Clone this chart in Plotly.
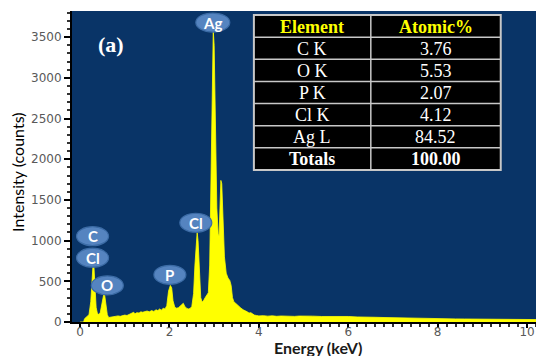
import plotly.graph_objects as go

# ---------------- data ----------------
energy_kev = [0.00, 0.08, 0.10, 0.15, 0.20, 0.24, 0.27, 0.29, 0.31, 0.33, 0.36, 0.39, 0.42, 0.45,
              0.49, 0.53, 0.55, 0.58, 0.61, 0.64, 0.70, 0.75, 0.80, 0.85, 0.90, 0.95, 1.00, 1.05,
              1.10, 1.15, 1.20, 1.23, 1.27, 1.32, 1.36, 1.40, 1.45, 1.50, 1.55, 1.60, 1.65, 1.70,
              1.74, 1.78, 1.82, 1.86, 1.90, 1.94, 1.98, 2.02, 2.05, 2.08, 2.12, 2.16, 2.20, 2.24,
              2.28, 2.31, 2.34, 2.38, 2.42, 2.46, 2.50, 2.54, 2.57, 2.60, 2.62, 2.64, 2.67, 2.70,
              2.73, 2.76, 2.80, 2.84, 2.87, 2.90, 2.93, 2.96, 2.98, 3.00, 3.03, 3.06, 3.09, 3.11,
              3.13, 3.15, 3.17, 3.20, 3.23, 3.27, 3.31, 3.35, 3.38, 3.41, 3.44, 3.48, 3.52, 3.56,
              3.60, 3.65, 3.70, 3.74, 3.78, 3.82, 3.86, 3.90, 3.95, 4.00, 4.10, 4.20, 4.30, 4.40,
              4.50, 4.60, 4.70, 4.80, 4.90, 5.00, 5.20, 5.40, 5.60, 5.80, 6.00, 6.20, 6.40, 6.60,
              6.80, 7.00, 7.20, 7.40, 7.60, 7.80, 8.00, 8.20, 8.40, 8.60, 8.80, 9.00, 9.20, 9.40,
              9.60, 9.80, 10.00, 10.20]
counts = [0, 0, 40, 60, 90, 250, 550, 700, 690, 450, 180, 100, 95, 110,
          250, 340, 335, 200, 90, 55, 60, 70, 65, 75, 70, 80, 85, 80,
          95, 100, 120, 100, 115, 110, 125, 120, 130, 135, 125, 140, 130, 150,
          140, 160, 145, 170, 160, 200, 380, 450, 420, 260, 180, 170, 175, 200,
          225, 230, 195, 170, 160, 165, 190, 350, 700, 1050, 1100, 1000, 650, 300,
          245, 260, 300, 330, 360, 700, 1800, 3300, 3580, 3400, 2400, 1400, 1080, 1060,
          1400, 1740, 1700, 1300, 800, 600, 540, 510, 450, 300, 250, 230, 210, 180,
          170, 150, 130, 125, 110, 115, 100, 85, 80, 75, 78, 72, 76, 70,
          74, 71, 75, 69, 73, 70, 72, 68, 70, 66, 68, 62, 64, 58,
          55, 52, 50, 48, 46, 44, 42, 40, 38, 37, 35, 36, 33, 34,
          31, 30, 32, 30]

peak_labels = ["Ag", "C", "Cl", "O", "P", "Cl"]
peak_label_x = [2.97, 0.28, 0.28, 0.61, 2.01, 2.59]
peak_label_y = [3680, 1055, 790, 450, 580, 1220]

table_headers = ["Element", "Atomic%"]
table_elements = ["C K", "O K", "P K", "Cl K", "Ag L", "Totals"]
table_atomic = ["3.76", "5.53", "2.07", "4.12", "84.52", "100.00"]

# ---------------- figure ----------------
fig = go.Figure()

fig.add_trace(go.Scatter(
    x=energy_kev, y=counts, mode="lines", fill="tozeroy",
    line=dict(color="#FFFF00", width=0.8), fillcolor="#FFFF00",
    hoverinfo="skip", showlegend=False))

shapes = []
annotations = []

# peak label bubbles
for txt, lx, ly in zip(peak_labels, peak_label_x, peak_label_y):
    w = 16 if txt != "Ag" else 17
    shapes.append(dict(type="circle", xref="x", yref="y", xsizemode="pixel", ysizemode="pixel",
                       xanchor=lx, yanchor=ly, x0=-w, x1=w, y0=-9.5, y1=9.5,
                       fillcolor="#5584C0", line=dict(color="#3B6BA5", width=1.2), layer="above"))
    annotations.append(dict(x=lx, y=ly, xref="x", yref="y", text=f"<b>{txt}</b>", showarrow=False,
                            font=dict(family="Lato", size=15, color="white")))

# composition table (paper coordinates of the plot area)
tx0, tx1, txm = 0.392, 0.924, 0.644
ty_top, ty_bot = 0.987, 0.489
rows = [table_headers] + [[a, b] for a, b in zip(table_elements, table_atomic)]
nrows = len(rows)
rh = (ty_top - ty_bot) / nrows
grid = dict(color="#C8C8C8", width=1.5)
shapes.append(dict(type="rect", xref="paper", yref="paper", x0=tx0, x1=tx1, y0=ty_bot, y1=ty_top,
                   fillcolor="black", line=dict(color="#C8C8C8", width=2), layer="above"))
shapes.append(dict(type="line", xref="paper", yref="paper", x0=txm, x1=txm, y0=ty_bot, y1=ty_top,
                   line=grid, layer="above"))
for i in range(1, nrows):
    yy = ty_top - i * rh
    shapes.append(dict(type="line", xref="paper", yref="paper", x0=tx0, x1=tx1, y0=yy, y1=yy,
                       line=grid, layer="above"))
for i, (c1, c2) in enumerate(rows):
    yc = ty_top - (i + 0.5) * rh - 0.002
    bold = i == 0 or i == nrows - 1
    color = "#FFFF00" if i == 0 else "white"
    for xc, t in (((tx0 + txm) / 2, c1), ((txm + tx1) / 2, c2)):
        annotations.append(dict(x=xc, y=yc, xref="paper", yref="paper",
                                text=f"<b>{t}</b>" if bold else t, showarrow=False,
                                xanchor="center", yanchor="middle",
                                font=dict(family="Liberation Serif", size=18, color=color)))

annotations.append(dict(x=0.084, y=0.891, xref="paper", yref="paper", text="<b>(a)</b>",
                        showarrow=False, xanchor="center", yanchor="middle",
                        font=dict(family="Liberation Serif", size=22, color="white")))
annotations.append(dict(x=0.530, y=-0.083, xref="paper", yref="paper", text="<b>Energy (keV)</b>",
                        showarrow=False, xanchor="center", yanchor="middle",
                        font=dict(family="Lato", size=16, color="#1a1a1a")))
annotations.append(dict(x=-0.116, y=0.48, xref="paper", yref="paper", text="Intensity (counts)",
                        showarrow=False, textangle=-90, xanchor="center", yanchor="middle",
                        font=dict(family="Lato", size=16, color="black")))

fig.update_layout(
    width=536, height=356,
    margin=dict(l=72, r=0, t=11, b=34),
    paper_bgcolor="white", plot_bgcolor="#093467",
    shapes=shapes, annotations=annotations,
    xaxis=dict(range=[-0.18, 10.2], tickmode="array", tickvals=[0, 2, 4, 6, 8, 10],
               showgrid=False, zeroline=False, showline=True, linecolor="black", linewidth=2,
               ticks="outside", ticklen=4, tickcolor="black", tickwidth=1.5,
               ticklabelstandoff=-6,
               minor=dict(dtick=0.2, tick0=0, ticks="outside", ticklen=3, tickcolor="#333", showgrid=False),
               tickfont=dict(family="DejaVu Sans", size=12, color="#595959")),
    yaxis=dict(range=[0, 3822], tickmode="array", tickvals=[0, 500, 1000, 1500, 2000, 2500, 3000, 3500],
               showgrid=False, zeroline=False, showline=True, linecolor="black", linewidth=2,
               ticks="outside", ticklen=6, tickcolor="black", tickwidth=1.5,
               minor=dict(dtick=100, tick0=0, ticks="outside", ticklen=3, tickcolor="#333", showgrid=False),
               tickfont=dict(family="DejaVu Sans", size=12, color="#595959")),
)

fig.write_html("out.html", config={"displayModeBar": False},
               post_script="document.body.style.margin='0';document.body.style.padding='0';")
